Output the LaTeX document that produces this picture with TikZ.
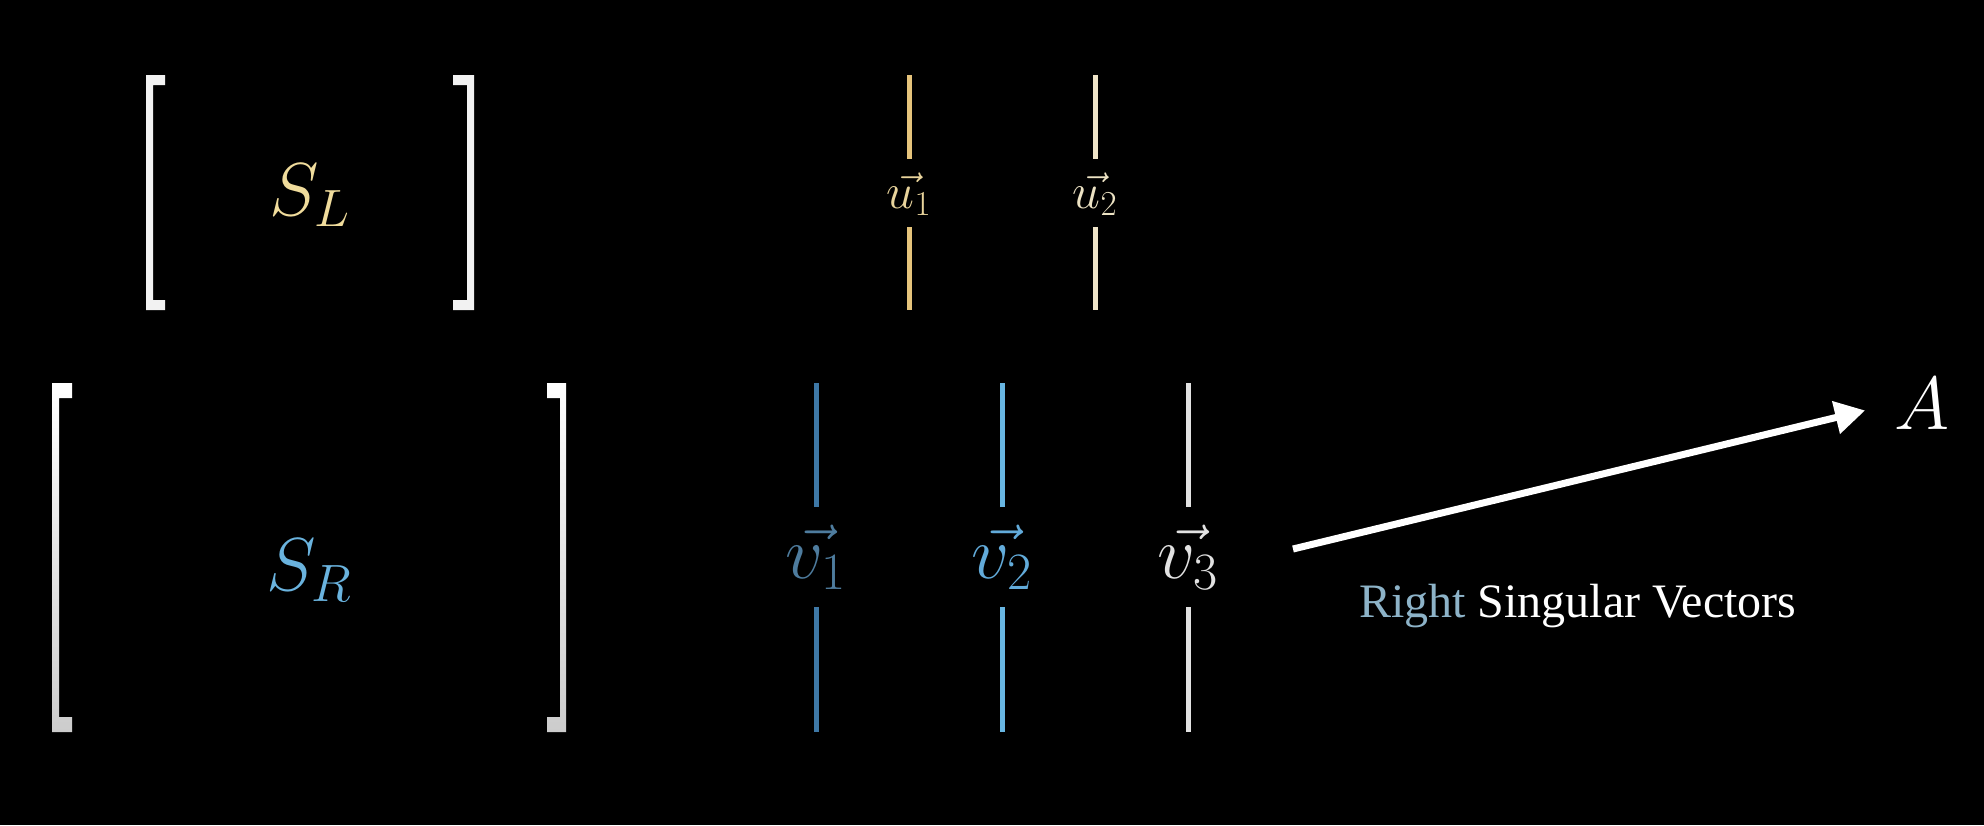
\RequirePackage{fix-cm}
\documentclass[tikz,border=0pt]{standalone}
\usepackage{fontspec}
\newfontfamily\tnr{Liberation Serif}
\usetikzlibrary{arrows.meta}
\definecolor{brk}{HTML}{F2F2F2}
\definecolor{slcol}{HTML}{F0DC9C}
\definecolor{uone}{HTML}{E6C47C}
\definecolor{uonet}{HTML}{E9D49C}
\definecolor{utwo}{HTML}{EFE4C8}
\definecolor{utwot}{HTML}{EDE3C4}
\definecolor{srcol}{HTML}{6AB3DE}
\definecolor{vone}{HTML}{3E78A6}
\definecolor{vonet}{HTML}{4E7C9E}
\definecolor{vtwo}{HTML}{68B6E2}
\definecolor{vtwot}{HTML}{62ABDA}
\definecolor{vthree}{HTML}{E2E2E2}
\definecolor{rightcol}{HTML}{8DB3C8}
\begin{document}
\begin{tikzpicture}[x=1pt,y=-1pt,
  big/.style={font=\fontsize{75}{80}\selectfont, inner sep=0pt},
  small/.style={font=\fontsize{50}{55}\selectfont, inner sep=0pt},
  vecline/.style={line width=5pt},
  caption/.style={font=\tnr\fontsize{48}{52}\selectfont, inner sep=0pt, text=white}]
\fill[black] (0,0) rectangle (1984,825);
\useasboundingbox (0,0) rectangle (1984,825);

% top brackets
\fill[brk] (146,75) -- (165,75) -- (165,85) -- (153,85) -- (153,300) -- (165,300) -- (165,310) -- (146,310) -- cycle;
\fill[brk] (474,75) -- (453,75) -- (453,85) -- (467,85) -- (467,300) -- (453,300) -- (453,310) -- (474,310) -- cycle;
\node[big, text=slcol, anchor=base] (SL) at (310,215) {$S_L$};

% bottom brackets
\shade[top color=white, bottom color=black!20!white] (52,383) -- (72,383) -- (72,398) -- (59,398) -- (59,717) -- (72,717) -- (72,732) -- (52,732) -- cycle;
\shade[top color=white, bottom color=black!20!white] (566,383) -- (547,383) -- (547,398) -- (560,398) -- (560,717) -- (547,717) -- (547,732) -- (566,732) -- cycle;
\node[big, text=srcol, anchor=base] (SR) at (309,590) {$S_R$};

% u vectors
\node[small, text=uonet, anchor=base] (u1) at (909,208) {$\vec{u_1}$};
\draw[vecline, uone] (909,75) -- (909,159);
\draw[vecline, uone] (909,227) -- (909,310);
\node[small, text=utwot, anchor=base] (u2) at (1095,208) {$\vec{u_2}$};
\draw[vecline, utwo] (1095,75) -- (1095,159);
\draw[vecline, utwo] (1095,227) -- (1095,310);

% v vectors
\node[big, text=vonet, anchor=base] (v1) at (816,578) {$\vec{v_1}$};
\draw[vecline, vone] (816,383) -- (816,507);
\draw[vecline, vone] (816,607) -- (816,732);
\node[big, text=vtwot, anchor=base] (v2) at (1002,578) {$\vec{v_2}$};
\draw[vecline, vtwo] (1002,383) -- (1002,507);
\draw[vecline, vtwo] (1002,607) -- (1002,732);
\node[big, text=vthree, anchor=base] (v3) at (1188,578) {$\vec{v_3}$};
\draw[vecline, vthree] (1188,383) -- (1188,507);
\draw[vecline, vthree] (1188,607) -- (1188,732);

% arrow to A
\node[big, text=white, anchor=base] (A) at (1922,429) {$A$};
\coordinate (as) at (1293,549);
\draw[white, line width=7pt, -{Triangle[length=30pt,width=32pt]}, shorten >=30pt] (as) -- (A.west);

\node[caption, anchor=base west] (cap) at (1359,617) {\textcolor{rightcol}{Right} Singular Vectors};
\end{tikzpicture}
\end{document}
